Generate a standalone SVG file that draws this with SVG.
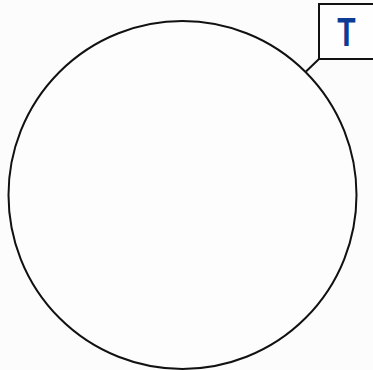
<svg xmlns="http://www.w3.org/2000/svg" width="373" height="370" viewBox="0 0 373 370">
<style>
.ln{fill:none;stroke:#111;stroke-width:2}
.box{fill:#fdfefd;stroke:#111;stroke-width:2}
.lbl{font-family:"Liberation Sans",Arial,sans-serif;font-weight:bold;font-size:40px;fill:#0c3c94}
</style>
<rect width="373" height="370" fill="#fbfcfb"/>
<g id="circle">
<circle cx="182.5" cy="195" r="174" fill="#fcfdfc" stroke="#111" stroke-width="2"/>
</g>
<g id="connectors">
<line class="ln" x1="319" y1="59" x2="306" y2="71.5"/>
</g>
<g id="T">
<rect class="box" x="319" y="4" width="55" height="55"/>
<text class="lbl" transform="translate(346.5,46) scale(0.75,1)" text-anchor="middle">T</text>
</g>
</svg>
